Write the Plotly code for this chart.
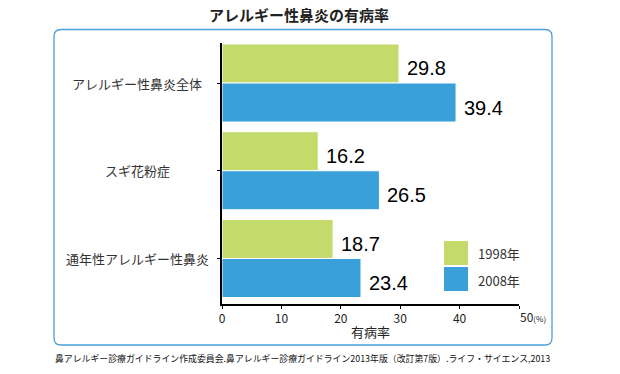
import plotly.graph_objects as go

# ---- data ----
categories = ["アレルギー性鼻炎全体", "スギ花粉症", "通年性アレルギー性鼻炎"]
series_names = ["1998年", "2008年"]
values_1998 = [29.8, 16.2, 18.7]
values_2008 = [39.4, 26.5, 23.4]
x_ticks = [0, 10, 20, 30, 40, 50]

title_text = "アレルギー性鼻炎の有病率"
x_title = "有病率"
source_text = "鼻アレルギー診療ガイドライン作成委員会.鼻アレルギー診療ガイドライン2013年版（改訂第7版）.ライフ・サイエンス,2013"

# ---- style ----
GREEN = "#c4db6c"
BLUE = "#3aa0da"
BOX = "#4aa0d8"
JP = "Noto Sans CJK JP"
NUM = "Liberation Sans, Arial"

W, H = 620, 374
L, R, T, B = 222, 519, 43, 304  # plot area in pixels


def px(xp):
    return (xp - L) / (R - L)


def py(yp):
    return (B - yp) / (B - T)


fig = go.Figure()
fig.add_trace(go.Bar(y=categories, x=values_1998, name=series_names[0], orientation="h",
                     marker=dict(color=GREEN, line=dict(color="white", width=1))))
fig.add_trace(go.Bar(y=categories, x=values_2008, name=series_names[1], orientation="h",
                     marker=dict(color=BLUE, line=dict(color="white", width=1))))

annotations = []
half = (1 - 0.11) / 4
for i, (a, b) in enumerate(zip(values_1998, values_2008)):
    for v, off in ((a, -half), (b, half)):
        annotations.append(dict(x=v, y=i + off, xref="x", yref="y", text=f"{v:.1f}",
                                showarrow=False, xanchor="left", yanchor="middle",
                                xshift=6, yshift=-5,
                                font=dict(family=NUM, size=20, color="#000")))

# category labels (centered)
for c in categories:
    annotations.append(dict(x=px(137), y=c, xref="paper", yref="y", text=c, showarrow=False,
                            xanchor="center", yanchor="middle",
                            font=dict(family=JP, size=13, color="#333")))

# 50(%) label
annotations.append(dict(x=50, y=py(316), xref="x", yref="paper",
                        text="50<span style='font-size:8px'>(%)</span>", showarrow=False,
                        xanchor="left", yanchor="middle", xshift=-1,
                        font=dict(family=JP, size=12, color="#222")))
# x axis title
annotations.append(dict(x=0.5, y=py(331), xref="paper", yref="paper", text=x_title,
                        showarrow=False, xanchor="center", yanchor="middle",
                        font=dict(family=JP, size=13, color="#222")))
# source
annotations.append(dict(x=px(53), y=py(358), xref="paper", yref="paper", text=source_text,
                        showarrow=False, xanchor="left", yanchor="middle",
                        font=dict(family=JP, size=8.9, color="#111")))

# legend (custom)
shapes = []
legend_rows = [(GREEN, series_names[0], 241, 265), (BLUE, series_names[1], 267, 291)]
for col, name, y0, y1 in legend_rows:
    shapes.append(dict(type="rect", xref="paper", yref="paper",
                       x0=px(444), x1=px(468), y0=py(y1), y1=py(y0),
                       fillcolor=col, line=dict(width=0)))
    annotations.append(dict(x=px(476), y=py((y0 + y1) / 2 + 1), xref="paper", yref="paper",
                            text=name, showarrow=False, xanchor="left", yanchor="middle",
                            font=dict(family=JP, size=13, color="#333")))

# rounded frame
bx0, bx1, by0, by1 = 54, 552, 29.5, 345
r = 7
rx, ry = r / (R - L), r / (B - T)
X0, X1, Y0, Y1 = px(bx0), px(bx1), py(by1), py(by0)
path = (f"M {X0 + rx},{Y1} L {X1 - rx},{Y1} Q {X1},{Y1} {X1},{Y1 - ry} "
        f"L {X1},{Y0 + ry} Q {X1},{Y0} {X1 - rx},{Y0} "
        f"L {X0 + rx},{Y0} Q {X0},{Y0} {X0},{Y0 + ry} "
        f"L {X0},{Y1 - ry} Q {X0},{Y1} {X0 + rx},{Y1} Z")
shapes.append(dict(type="path", xref="paper", yref="paper", path=path,
                   line=dict(color=BOX, width=1.3), layer="below"))

fig.update_layout(
    width=W, height=H,
    margin=dict(l=L, r=W - R, t=T, b=H - B, pad=0),
    paper_bgcolor="white", plot_bgcolor="white",
    barmode="group", bargap=0.11, bargroupgap=0,
    showlegend=False,
    title=dict(text=f"<b>{title_text}</b>", x=299 / W, xanchor="center",
               y=1 - 16 / H, yanchor="middle",
               font=dict(family=JP, size=15, color="#222")),
    xaxis=dict(range=[0, 50], tickvals=x_ticks, ticktext=[str(t) for t in x_ticks[:-1]] + [""],
               showgrid=False, zeroline=False, showline=True, linecolor="black", linewidth=2,
               ticks="outside", ticklen=3, tickcolor="black", tickwidth=1,
               tickfont=dict(family=JP, size=12, color="#222")),
    yaxis=dict(type="category", range=[2.519, -0.456], showticklabels=False,
               showgrid=False, zeroline=False, showline=True, linecolor="black", linewidth=2,
               ticks="outside", ticklen=3, tickcolor="black", tickwidth=1),
    annotations=annotations, shapes=shapes,
)

fig.write_html("out.html", config={"displayModeBar": False},
               post_script="document.body.style.margin='0';")
